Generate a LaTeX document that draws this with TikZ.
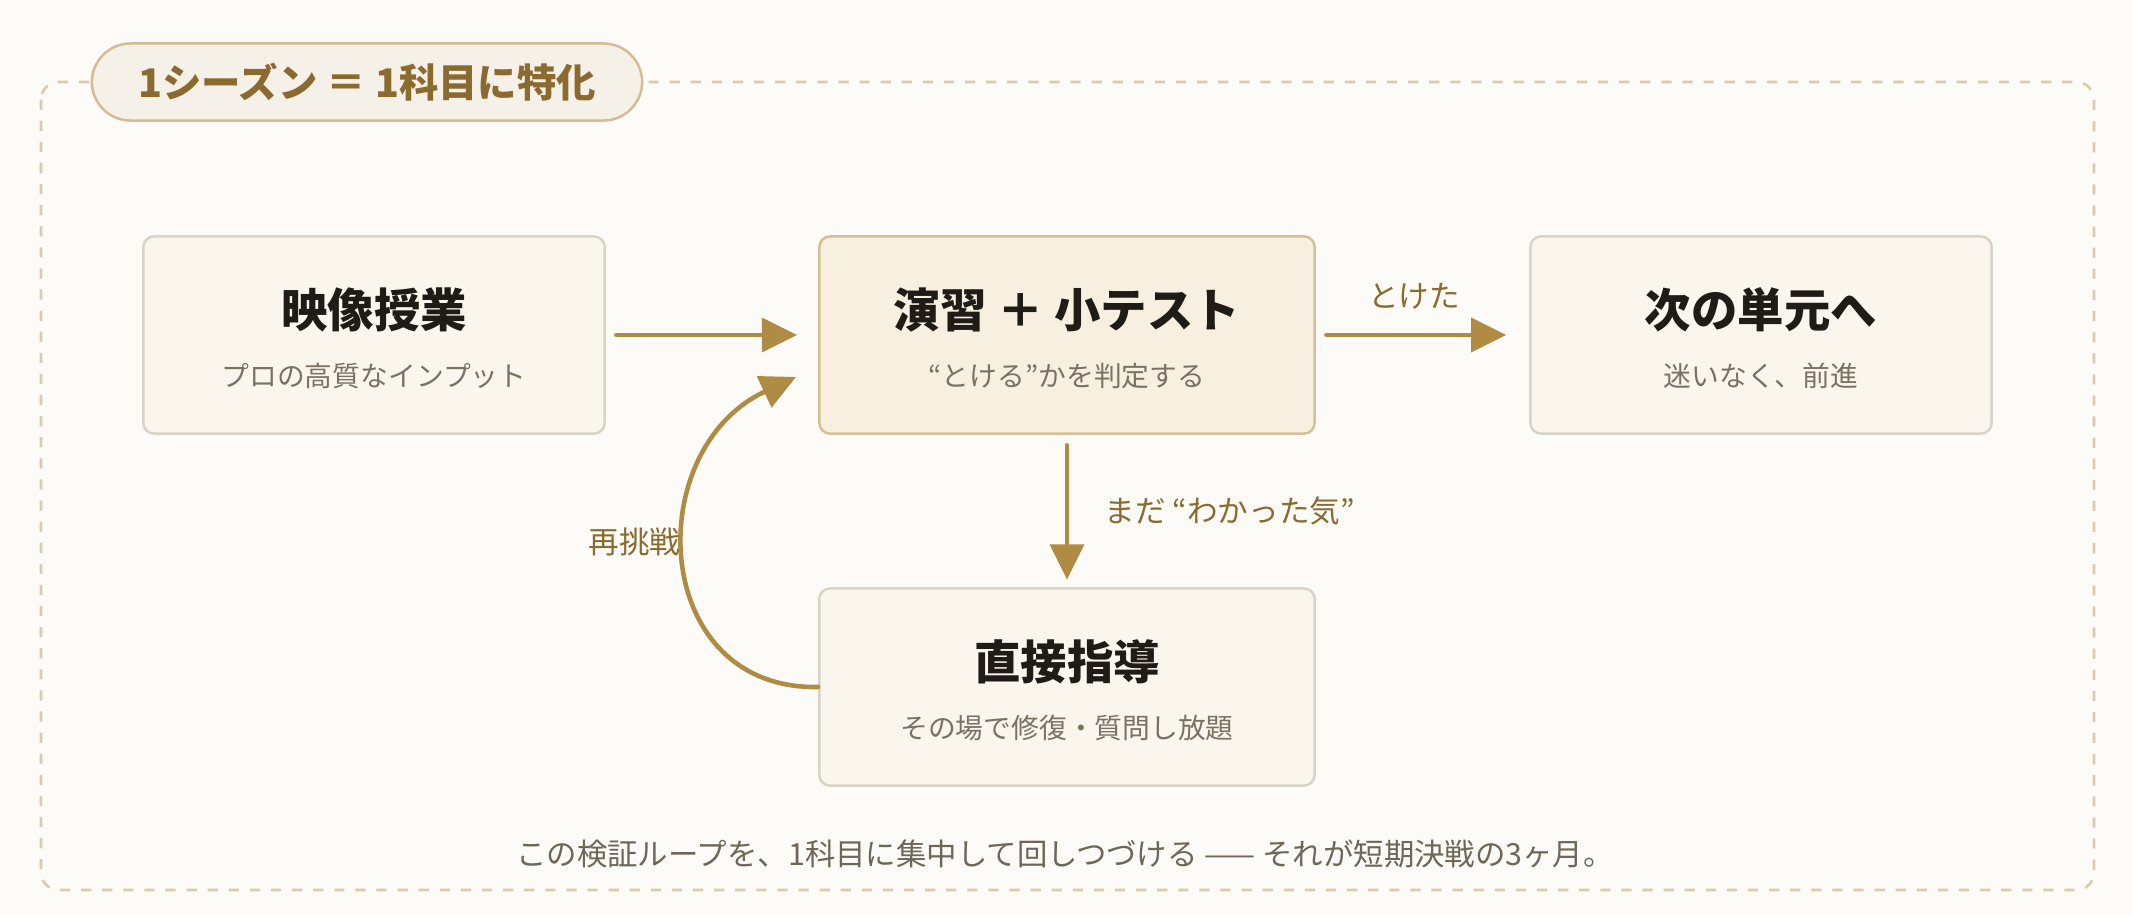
\documentclass[tikz,border=0pt]{standalone}
\usepackage{fontspec}
\newfontfamily\jp{Noto Sans CJK JP}
\usetikzlibrary{arrows.meta}
\definecolor{bg}{HTML}{FDFBF7}
\definecolor{frame}{HTML}{DACAB0}
\definecolor{pillfill}{HTML}{F6F1E8}
\definecolor{pillline}{HTML}{D3BC93}
\definecolor{brown}{HTML}{8B6A2F}
\definecolor{boxfill}{HTML}{FAF6EE}
\definecolor{boxline}{HTML}{D8D3C8}
\definecolor{hotfill}{HTML}{F7EFDF}
\definecolor{hotline}{HTML}{D6BF95}
\definecolor{ink}{HTML}{1F1B16}
\definecolor{grey}{HTML}{7A7163}
\definecolor{gold}{HTML}{B08B44}

\begin{document}
\begin{tikzpicture}[x=0.01cm,y=-0.01cm,
  box/.style={draw=boxline,fill=boxfill,line width=0.7pt,rounded corners=3pt,
    minimum width=4.61cm,minimum height=1.97cm},
  hot/.style={box,draw=hotline,fill=hotfill,minimum width=4.95cm},
  title/.style={font=\jp\bfseries\fontsize{13.2pt}{14pt}\selectfont,text=ink,inner sep=0pt},
  sub/.style={font=\jp\fontsize{7.9pt}{9pt}\selectfont,text=grey,inner sep=0pt},
  lbl/.style={font=\jp\fontsize{8.7pt}{10pt}\selectfont,text=brown,inner sep=0pt},
  flow/.style={draw=gold,line width=1.3pt,line cap=round,-{Triangle[length=10pt,width=9.6pt]}}]
\path[fill=bg] (0,0) rectangle (2132,915);

% outer frame and season tag
\draw[frame,line width=0.75pt,dash pattern=on 2.9pt off 3.1pt,rounded corners=5pt]
  (41,82) rectangle (2094,890);
\node[draw=pillline,fill=pillfill,line width=0.7pt,rounded corners=11pt,
  minimum width=5.5cm,minimum height=0.77cm,
  font=\jp\bfseries\fontsize{11.2pt}{12pt}\selectfont,text=brown] (tag) at (367,82)
  {1シーズン ＝ 1科目に特化};

% steps
\node[box] (video) at (374,335) {};
\node[hot] (drill) at (1067,335) {};
\node[box] (next) at (1761,335) {};
\node[hot,draw=boxline,fill=boxfill] (coach) at (1067,687) {};

\node[title] (videoT) at (374,310) {映像授業};
\node[sub] (videoS) at (374,376) {プロの高質なインプット};
\node[title] (drillT) at (1067,310) {演習 ＋ 小テスト};
\node[sub] (drillS) at (1067,376) {“とける”かを判定する};
\node[title] (nextT) at (1761,310) {次の単元へ};
\node[sub] (nextS) at (1761,376) {迷いなく、前進};
\node[title] (coachT) at (1067,662) {直接指導};
\node[sub] (coachS) at (1067,728) {その場で修復・質問し放題};

% arrows
\draw[flow,shorten <=3pt,shorten >=6pt] (video.east) -- (drill.west);
\draw[flow,shorten <=3pt,shorten >=6.5pt] (drill.east) -- (next.west);
\draw[flow,shorten <=3pt,shorten >=2.2pt] (drill.south) -- (coach.north);
\coordinate (back) at (796,377);
\draw[flow] (coach.west) .. controls (650,690) and (640,450) .. (back);

\node[lbl] (solved) at (1414,296) {とけた};
\node[lbl,anchor=west] (notyet) at (1104,511) {まだ “わかった気”};
\node[lbl,anchor=east] (retry) at (681,542) {再挑戦};

\node[font=\jp\fontsize{8.65pt}{10pt}\selectfont,text=grey!90!black,inner sep=0pt] (foot) at (1065,854)
  {この検証ループを、1科目に集中して回しつづける —— それが短期決戦の3ヶ月。};
\end{tikzpicture}
\end{document}
